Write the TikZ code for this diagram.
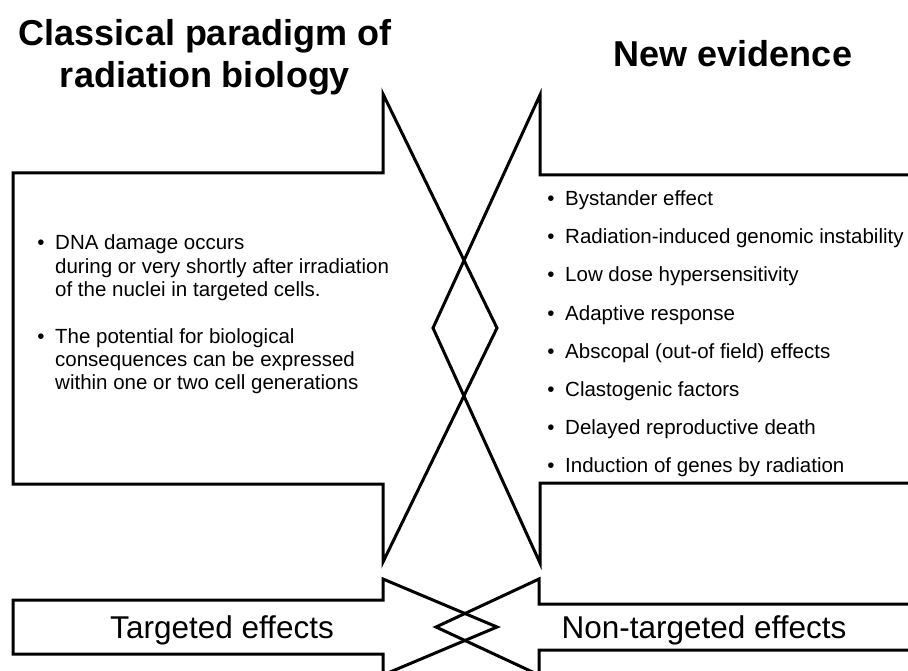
\documentclass[tikz,border=0pt]{standalone}
\usepackage{fontspec}
\setmainfont{Liberation Sans}
\begin{document}
\begin{tikzpicture}[x=1pt,y=-1pt,
  outline/.style={line width=3pt, line join=miter, miter limit=20},
  title/.style={inner sep=0pt, anchor=base, font=\fontsize{36}{41}\selectfont\bfseries},
  item/.style={inner sep=0pt, anchor=base west, font=\fontsize{20.5}{24}\selectfont},
  dot/.style={inner sep=0pt, anchor=base, font=\fontsize{20.5}{24}\selectfont},
  label/.style={inner sep=0pt, anchor=base, font=\fontsize{31.5}{36}\selectfont}]
\useasboundingbox (0,0) rectangle (908,671);

% big arrow: classical paradigm, pointing right
\draw[outline] (13,173) -- (383,173) -- (383,94) -- (497,328)
  -- (383,562) -- (383,484) -- (13,484) -- cycle;
% big arrow: new evidence, pointing left, open at the right edge
\draw[outline] (912,175) -- (540,175) -- (540,95) -- (433,328)
  -- (540,563) -- (540,483) -- (912,483);

% small arrow: targeted effects
\draw[outline] (13,600) -- (383,600) -- (383,579) -- (497,627)
  -- (383,675) -- (383,654) -- (13,654) -- cycle;
% small arrow: non-targeted effects
\draw[outline] (912,604) -- (539,604) -- (539,579) -- (436,627)
  -- (539,675) -- (539,650) -- (912,650);

% headings
\node[title] (t1) at (205,46) {Classical paradigm of};
\node[title] (t2) at (205,88) {radiation biology};
\node[title] (t3) at (733,67) {New evidence};

% classical statements
\node[dot] (b1) at (41,250) {•};
\node[item] (c1) at (55,250) {DNA damage occurs};
\node[item] (c2) at (55,273) {during or very shortly after irradiation};
\node[item] (c3) at (55,296) {of the nuclei in targeted cells.};
\node[dot] (b2) at (41,343) {•};
\node[item] (c4) at (55,343) {The potential for biological};
\node[item] (c5) at (55,366) {consequences can be expressed};
\node[item] (c6) at (55,389) {within one or two cell generations};

% new evidence list
\foreach \txt [count=\i] in {Bystander effect,
  Radiation-induced genomic instability,
  Low dose hypersensitivity,
  Adaptive response,
  Abscopal (out-of field) effects,
  Clastogenic factors,
  Delayed reproductive death,
  Induction of genes by radiation}{
  \node[dot] (nb\i) at (551,{206+38*(\i-1)}) {•};
  \node[item] (n\i) at (565,{206+38*(\i-1)}) {\txt};
}

% effect labels
\node[label] (e1) at (222,638) {Targeted effects};
\node[label] (e2) at (704,638) {Non-targeted effects};
\end{tikzpicture}
\end{document}
